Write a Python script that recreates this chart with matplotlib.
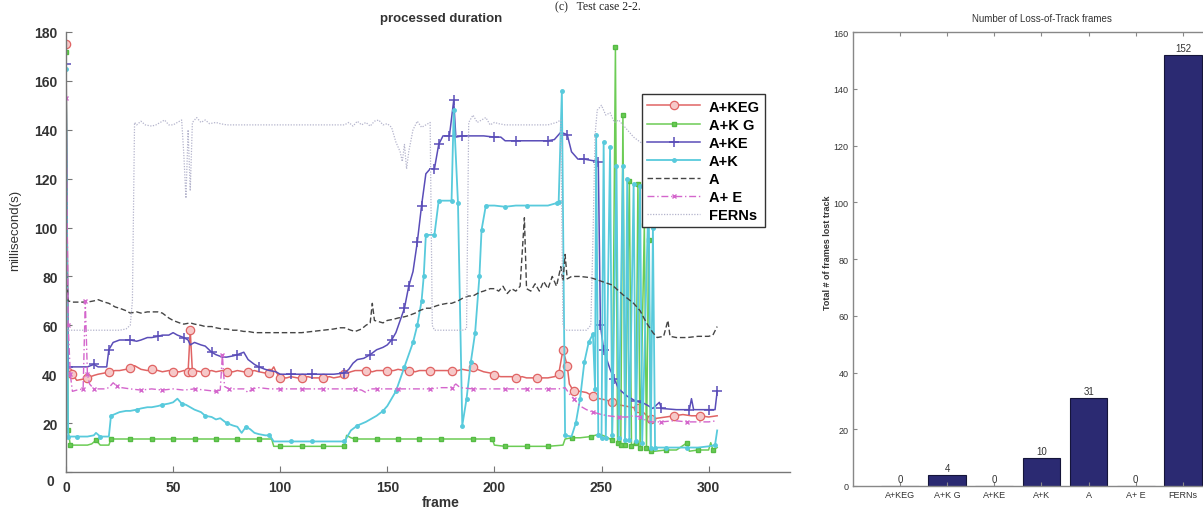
import matplotlib
matplotlib.use("Agg")
import matplotlib.pyplot as plt

plt.rcParams['font.family'] = ['Liberation Sans', 'DejaVu Sans']

# ---- processed duration per frame ----
keg_x = [0, 1, 3, 5, 8, 10, 13, 15, 18, 20, 23, 25, 28, 30, 32, 35, 38, 40, 43, 45, 48, 50, 53, 55, 57, 58, 59,
         60, 63, 65, 68, 70, 73, 75, 78, 80, 83, 85, 88, 90, 93, 95, 97, 98, 100, 103, 105, 108, 110, 113, 115,
         118, 120, 123, 125, 128, 130, 133, 135, 138, 140, 143, 145, 148, 150, 153, 155, 158, 160, 163, 165, 168,
         170, 173, 175, 178, 180, 183, 185, 188, 190, 192, 195, 198, 200, 203, 205, 208, 210, 213, 215, 218, 220,
         223, 225, 228, 230, 232, 234, 235, 237, 240, 243, 246, 249, 252, 255, 258, 261, 264, 267, 270, 273, 276,
         280, 284, 288, 292, 296, 300, 304]
keg_y = [175, 41, 40, 37.5, 38, 38.5, 39.5, 40, 40.5, 41, 41.5, 41.5, 42, 42.5, 43.5, 42, 41.5, 42, 41.5, 41, 41.5,
         41, 41, 41.5, 41, 58, 41, 41.5, 41, 41, 41.5, 41, 41.5, 41, 41, 41.5, 41, 41, 41.5, 41, 40.5, 40.5, 43, 41,
         38.5, 38.5, 39, 38.5, 38.5, 39, 38.5, 38.5, 38.5, 39, 38.5, 39, 40, 41, 41.5, 41.5, 41.5, 41, 41.5, 41.5,
         41.5, 41.5, 42, 41.5, 41.5, 41, 41.5, 41.5, 41.5, 41.5, 41.5, 41.5, 41.5, 41.5, 42, 41.5, 43, 42, 41, 40.5,
         39.5, 39, 39, 39, 38.5, 39, 38.5, 38.5, 38.5, 38.5, 38.5, 39, 40, 50, 43.5, 36, 33, 33, 32.5, 31, 30, 29.5,
         28.5, 27.5, 27, 26.5, 26, 24, 21.5, 22, 22.5, 23, 23.5, 23, 23, 22.5, 23]

kg_x = [0, 1, 2, 5, 8, 10, 12, 14, 16, 18, 20, 21, 25, 30, 35, 40, 45, 50, 55, 60, 65, 70, 75, 80, 85, 90, 95, 96,
        97, 100, 105, 110, 115, 120, 125, 130, 131, 133, 135, 140, 145, 150, 155, 160, 165, 170, 175, 180, 185,
        190, 195, 199, 200, 205, 210, 215, 220, 225, 232, 233, 236, 240, 245, 249, 252, 255, 256.5, 257.5, 259,
        260, 261, 263, 264, 266, 267, 268, 270, 271, 272, 273, 275, 280, 285, 290, 291, 295, 300, 301, 302, 304]
kg_y = [172, 17, 11, 11, 11, 11, 11.5, 13, 11, 11, 11, 13.5, 13.5, 13.5, 13.5, 13.5, 13.5, 13.5, 13.5, 13.5, 13.5,
        13.5, 13.5, 13.5, 13.5, 13.5, 13.5, 13.5, 10.5, 10.5, 10.5, 10.5, 10.5, 10.5, 10.5, 10.5, 15, 14, 13.5,
        13.5, 13.5, 13.5, 13.5, 13.5, 13.5, 13.5, 13.5, 13.5, 13.5, 13.5, 13.5, 13.5, 11, 10.5, 10.5, 10.5, 10.5,
        10.5, 11, 13.5, 14, 14, 14.5, 15.5, 14.5, 13, 174, 12, 11, 146, 11, 119, 10.5, 12, 118, 10, 101, 10, 95,
        8.5, 8.5, 9, 9, 12, 8.5, 9, 9, 12, 9, 10]

ke_x = [0, 1, 5, 10, 13, 15, 19, 20, 22, 25, 28, 30, 33, 35, 38, 40, 43, 45, 48, 50, 52, 55, 57, 58, 60, 63, 65, 68,
        70, 73, 75, 78, 80, 83, 85, 88, 90, 93, 95, 98, 100, 105, 110, 115, 120, 125, 130, 132, 134, 136, 139, 142,
        145, 148, 150, 152, 154, 156, 158, 160, 162, 164, 166, 168, 170, 172, 174, 176, 179, 181, 182, 185, 190,
        195, 200, 203, 205, 210, 215, 220, 225, 228, 231, 234, 236, 239, 242, 245, 248.5, 249.5, 251, 254, 256,
        258, 262, 266, 270, 274, 277, 278, 285, 291, 292, 293, 300, 303, 304]
ke_y = [167, 43, 43, 43, 44, 43, 43, 50, 53, 54, 54, 54, 53.5, 54, 55, 55, 55.5, 56, 56, 57, 56, 55, 54, 52, 53, 52,
        51.5, 49, 48, 47, 47, 47.5, 48, 49, 46, 44, 43, 42, 41.5, 41, 40, 40, 40, 40, 40, 40, 40.5, 42, 44.5, 46,
        46.5, 48, 50, 51, 52, 54, 57, 62, 67, 76, 82, 94, 109, 122, 124, 124, 134, 137.5, 137.5, 152, 137, 137.5,
        137.5, 137.5, 137, 137, 135.5, 135.5, 135.5, 135.5, 135.5, 136, 139, 138, 131, 128, 128, 127.5, 127, 60, 50,
        42, 38, 34, 31, 29, 28, 26, 28.5, 26, 25.5, 25.5, 30, 25.5, 25.5, 25.5, 33]

k_x = [0, 1, 5, 10, 13, 14, 16, 20, 21, 25, 28, 30, 33, 35, 38, 40, 43, 45, 48, 50, 52, 54, 56, 58, 60, 63, 65, 68,
       70, 72, 75, 78, 80, 82, 84, 86, 88, 90, 93, 95, 97, 100, 105, 110, 115, 120, 125, 130, 131, 133, 136, 140,
       143, 145, 148, 150, 152, 154, 156, 158, 160, 162, 164, 166, 167, 168, 172, 174, 180, 181, 183, 185, 187,
       189, 191, 193, 194, 196, 200, 205, 210, 215, 220, 225, 229, 230, 231.5, 233, 236, 238, 240, 242, 244, 246,
       247, 247.5, 248.5, 250, 251, 252, 254, 255, 257, 258, 260, 261, 262, 263, 265, 266, 268, 269, 272, 273,
       274, 275, 280, 285, 290, 295, 300, 303, 304]
k_y = [165, 14.5, 14.5, 14.5, 15, 16, 14.5, 14.5, 23, 24.5, 25, 25, 25.5, 26, 26.5, 26.5, 27, 27.5, 28, 28.5, 30,
       28, 27.5, 26.5, 25.5, 24.5, 23, 22.5, 21.5, 22, 20, 19, 18.5, 16, 18.5, 17.5, 16, 15.5, 15, 15, 12.5, 12.5,
       12.5, 12.5, 12.5, 12.5, 12.5, 12.5, 14, 17, 19, 20.5, 22, 23, 25, 27, 30, 33, 38, 43, 48, 53, 60, 70, 80, 97,
       97, 111, 111, 148, 110, 19, 30, 45, 57, 80, 99, 109, 109, 108.5, 109, 109, 109, 109, 110, 110.5, 156, 15,
       14.5, 20, 30, 45, 53, 56.5, 34, 138, 15, 14, 135, 14, 133, 15, 125, 14, 125, 13, 120, 13, 118, 12.5, 117,
       12, 115, 10, 100, 10, 10, 10, 10, 10, 10.5, 11, 17]

a_x = [0, 1, 3, 5, 8, 10, 13, 15, 18, 20, 23, 25, 28, 30, 33, 35, 38, 40, 43, 45, 48, 50, 53, 55, 58, 60, 63, 65, 68,
       70, 73, 75, 78, 80, 83, 85, 88, 90, 95, 100, 105, 110, 115, 120, 125, 128, 130, 133, 135, 138, 140, 142, 143,
       144, 146, 148, 150, 153, 155, 158, 160, 163, 165, 168, 170, 173, 175, 178, 180, 183, 185, 188, 190, 193,
       195, 198, 200, 202, 204, 206, 208, 210, 212, 214, 215, 217, 219, 221, 223, 225, 227, 229, 231, 232, 233,
       234, 236, 240, 245, 250, 255, 260, 265, 268, 271, 274, 276, 279, 281, 282, 285, 290, 295, 300, 302, 304]
a_y = [85, 70, 69.5, 69.5, 69.5, 69.5, 70, 70.5, 69.5, 69, 67.5, 67, 66, 65, 65.5, 65, 65.5, 65.5, 65.5, 65, 63, 62,
       61, 60.5, 61, 60.5, 60, 59.5, 59.5, 59, 58.5, 58.5, 58, 58, 57.5, 57.5, 57, 57, 57, 57, 57, 57, 57.5, 58,
       58.5, 59, 59, 58, 57.5, 58.5, 60, 61, 69, 62, 61.5, 61, 62, 62.5, 63, 63.5, 64, 65, 66, 67, 67, 68, 68.5, 69,
       69, 70, 71, 72, 72, 73.5, 74, 75, 75, 74, 76, 73, 75, 74, 76, 104, 75, 74, 77, 74, 78, 75, 80, 76, 84, 78,
       89, 79, 80, 80, 79.5, 78, 76.5, 72.5, 69, 66, 61, 57, 55, 55.5, 62, 55.5, 55, 55, 55.5, 55.5, 56, 59.5]

e_x = [0, 1, 2, 3, 5, 8, 9, 10, 11, 13, 15, 18, 20, 22, 24, 26, 30, 35, 40, 45, 50, 55, 60, 65, 70, 72, 73, 74, 76,
       80, 83, 85, 87, 90, 95, 100, 105, 110, 115, 120, 125, 130, 135, 138, 140, 142, 145, 150, 155, 160, 165, 170,
       175, 180, 182, 184, 190, 195, 200, 205, 210, 215, 220, 225, 230, 233, 235, 237, 240, 243, 246, 250, 253,
       258, 262, 265, 268, 271, 273, 278, 284, 290, 296, 300, 304]
e_y = [153, 60, 40, 33, 33.5, 34, 70, 40, 36, 34, 34, 34, 34.5, 36.5, 35, 34.5, 34, 33.5, 34, 33.5, 34, 33.5, 34,
       33.5, 33, 33.5, 48, 35, 34, 34, 34, 32.5, 34, 34.5, 34, 34, 34, 34, 34, 34, 34, 34, 34, 33.5, 32.5, 34, 34,
       34, 34, 34, 34, 34, 34.5, 34.5, 36, 34.5, 34, 34, 34, 34, 34, 34, 34, 34, 34, 34.5, 32, 30, 27, 25.5, 24.5,
       23.5, 23, 22.5, 22.5, 23, 22.5, 21, 20.5, 20.5, 21, 20.5, 20.5, 20.5, 21]

f_x = [0, 1, 5, 10, 15, 20, 25, 28, 30, 31, 32, 33, 35, 37, 40, 42, 44, 46, 48, 50, 52, 54, 55, 56, 57, 58, 59, 61,
       63, 65, 67, 70, 72, 75, 80, 85, 90, 95, 100, 105, 110, 115, 120, 125, 130, 132, 134, 136, 138, 140, 142,
       144, 146, 148, 150, 152, 154, 156, 157, 158, 159, 160, 162, 164, 166, 168, 170, 171, 172, 175, 180, 185,
       187, 188, 190, 192, 194, 196, 198, 200, 202, 205, 210, 215, 220, 225, 229, 231, 232, 233, 236, 240, 243,
       245, 246, 247, 248, 250, 252, 254, 256, 258, 260, 262, 265, 268, 270, 272]
f_y = [60, 58, 58, 58, 58, 58, 58, 58.5, 60, 70, 143, 142, 143.5, 142, 141.5, 142, 143, 144, 142, 142, 143, 144, 130,
       112, 140, 115, 143, 145, 143, 144, 142.5, 143, 142.5, 142, 142, 142, 142, 142, 142, 142, 142, 142, 142, 142,
       142, 143, 141.5, 143.5, 142, 143, 141.5, 143.5, 144, 142, 142.5, 141, 135, 131, 127, 134, 124, 131, 140,
       143.5, 141, 142, 143, 60, 58, 58, 58, 58, 58.5, 143, 146, 143, 144, 145, 142, 143, 142.5, 142, 142, 142, 142,
       142, 143, 144, 60, 58, 58, 58, 58, 60, 95, 138, 148, 150, 146, 147, 143, 144, 142, 140, 137, 135, 134, 133]

# ---- loss-of-track counts ----
methods = ['A+KEG', 'A+K G', 'A+KE', 'A+K', 'A', 'A+ E', 'FERNs']
lost_frames = [0, 4, 0, 10, 31, 0, 152]

fig = plt.figure(figsize=(12.03, 5.10), dpi=100)
W, H = 1203.0, 510.0

# ------------------------------------------------------------------ left
ax = fig.add_axes([66 / W, 37 / H, 724 / W, 440 / H])
lw = 1.1
ax.plot(keg_x, keg_y, color='#e06464', lw=lw, marker='o', ms=6, mfc='#f6c8c8', mec='#e06464', mew=0.9,
        markevery=0.026, label='A+KEG')
ax.plot(kg_x, kg_y, color='#6ccc55', lw=lw, marker='s', ms=2.5, mec='#55bb44', markevery=0.026, label='A+K G')
ax.plot(ke_x, ke_y, color='#5a4db8', lw=lw, marker='+', ms=7, mew=1.1, markevery=0.035, label='A+KE')
ax.plot(k_x, k_y, color='#58cadc', lw=1.3, marker='.', ms=5, markevery=0.03, label='A+K')
ax.plot(a_x, a_y, color='#454545', lw=1.0, ls=(0, (4, 2)), label='A')
ax.plot(e_x, e_y, color='#d466cc', lw=1.0, ls=(0, (5, 2, 1, 2)), marker='x', ms=3.5, markevery=0.03,
        label='A+ E')
ax.plot(f_x, f_y, color='#b4b4cc', lw=0.9, ls=(0, (1, 1.2)), label='FERNs')

ax.set_xlim(0, 338)
ax.set_ylim(0, 180)
ax.set_xticks(range(0, 301, 50))
ax.set_yticks(range(0, 181, 20))
ax.set_yticklabels([''] + [str(v) for v in range(20, 181, 20)])
for s in ['top', 'right']:
    ax.spines[s].set_visible(False)
for s in ['left', 'bottom']:
    ax.spines[s].set_color('#777777')
    ax.spines[s].set_linewidth(1.0)
ax.tick_params(direction='in', length=4, color='#777777', labelsize=10, pad=6)
for t in ax.get_xticklabels() + ax.get_yticklabels():
    t.set_fontweight('bold')
    t.set_color('#333333')
fig.text(50 / W, 1 - 482 / H, '0', fontsize=10, fontweight='bold', color='#333333', ha='center', va='center')

leg = ax.legend(loc='upper left', bbox_to_anchor=(0.796, 0.858), borderaxespad=0, fancybox=False,
                framealpha=1, edgecolor='#333333', handlelength=3.6, handletextpad=0.6, labelspacing=0.28,
                borderpad=0.35, prop={'weight': 'bold', 'size': 10.5})
leg.get_frame().set_linewidth(1.0)

fig.text(441 / W, 1 - 19 / H, 'processed duration', fontsize=9.5, fontweight='bold', color='#333333',
         ha='center', va='center')
fig.text(441 / W, 1 - 503 / H, 'frame', fontsize=10, fontweight='bold', color='#333333', ha='center', va='center')
fig.text(15 / W, 1 - 230 / H, 'millisecond(s)', fontsize=9.5, color='#333333', rotation=90,
         ha='center', va='center')

# caption strip at the very top (cropped in the source image, kept fully visible here)
fig.text(598 / W, 1 - 10 / H, '(c)   Test case 2-2.', fontsize=8.5, family=['Liberation Serif', 'DejaVu Serif'],
         color='#222222', ha='center', va='baseline')

# ------------------------------------------------------------------ right
narrow = ['Liberation Sans Narrow', 'Liberation Sans', 'DejaVu Sans']
bx = fig.add_axes([852.8 / W, 23 / H, 377.3 / W, 454 / H])
pos = list(range(1, len(methods) + 1))
bars = bx.bar(pos, lost_frames, width=0.8, color='#2b2a72', edgecolor='#15153a', linewidth=0.8)
bx.bar_label(bars, labels=[str(v) for v in lost_frames], padding=1.5, fontsize=7, family=narrow, color='#333333')
bx.set_xlim(0, 8)
bx.set_ylim(0, 160)
bx.set_xticks(pos)
bx.set_xticklabels(methods, family=narrow, fontsize=6.5, color='#333333')
bx.set_yticks(range(0, 161, 20))
bx.set_yticklabels([str(v) for v in range(0, 161, 20)], family=narrow, fontsize=6.5, color='#333333')
for s in bx.spines.values():
    s.set_color('#888888')
    s.set_linewidth(1.0)
bx.tick_params(direction='in', length=3, color='#888888', top=True, right=True, pad=3)
bx.set_title('Number of Loss-of-Track frames', fontsize=7, family=narrow, color='#333333', pad=8)
fig.text(828 / W, 1 - 253 / H, 'Total # of frames lost track', fontsize=6.5, fontweight='bold',
         color='#333333', rotation=90, ha='center', va='center')

fig.savefig('out.png', dpi=100)
